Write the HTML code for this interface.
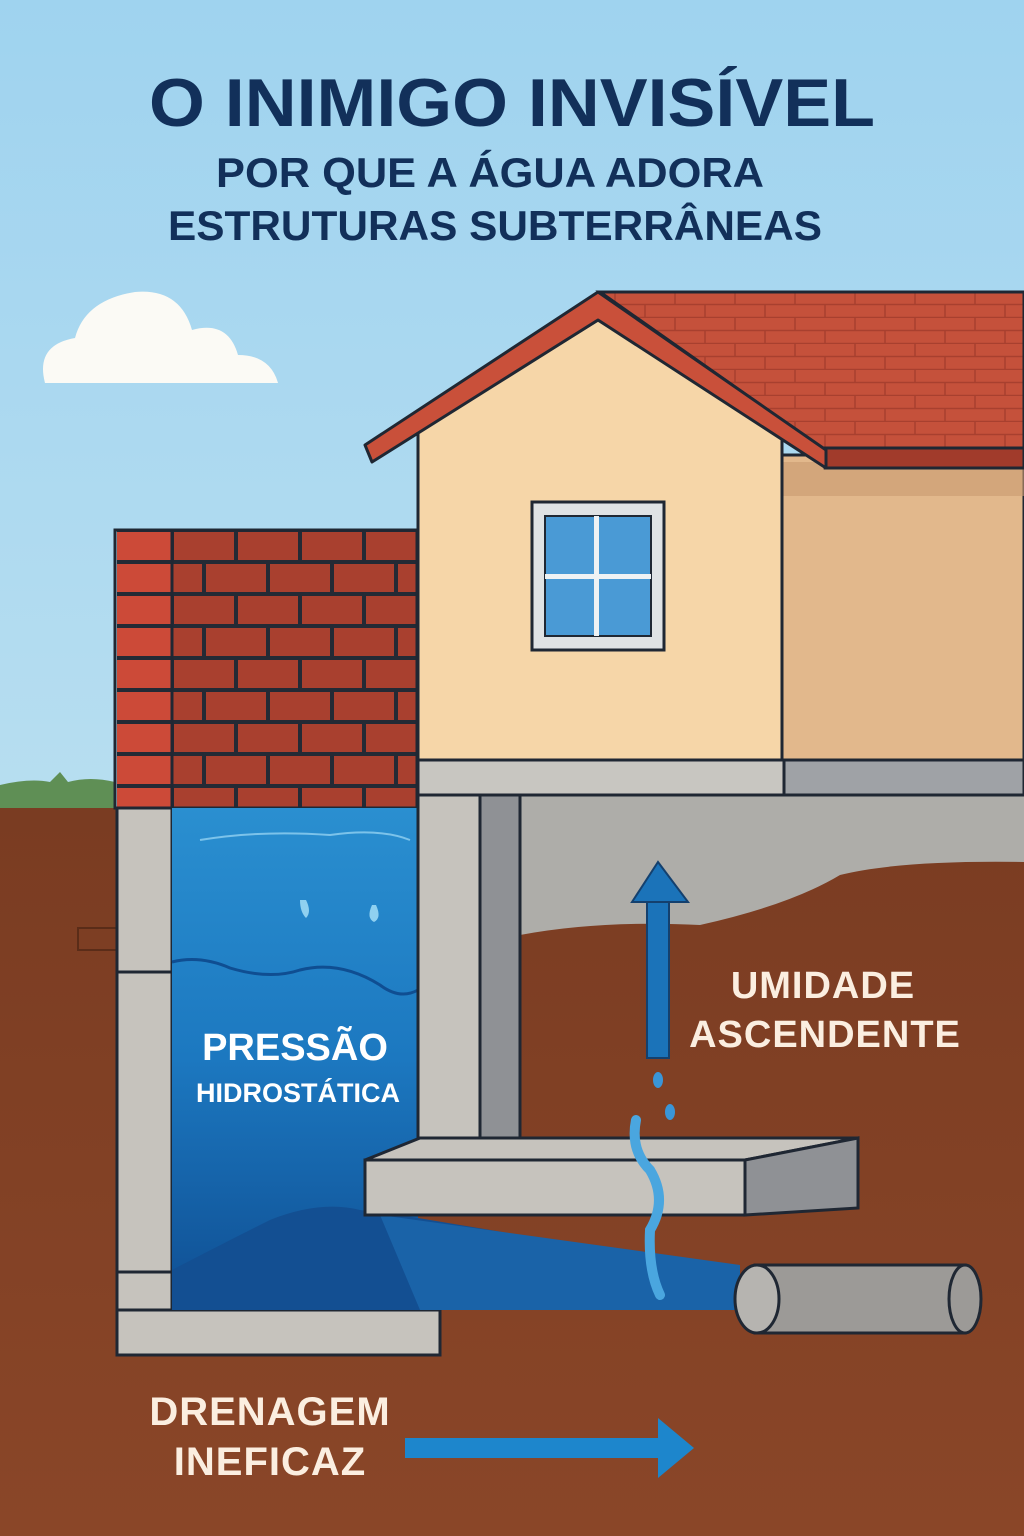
<!DOCTYPE html>
<html><head><meta charset="utf-8"><style>
html,body{margin:0;padding:0;width:1024px;height:1536px;overflow:hidden;}
svg{display:block}
text{font-family:"Liberation Sans","DejaVu Sans",sans-serif;font-weight:bold}
</style></head><body>
<svg width="1024" height="1536" viewBox="0 0 1024 1536" xmlns="http://www.w3.org/2000/svg">
<defs>
<linearGradient id="sky" x1="0" y1="0" x2="0" y2="1">
<stop offset="0" stop-color="#9fd3ef"/><stop offset="1" stop-color="#cde8f2"/></linearGradient>
<linearGradient id="water" x1="0" y1="0" x2="0" y2="1">
<stop offset="0" stop-color="#2a8fd0"/><stop offset="0.5" stop-color="#1c78c0"/><stop offset="1" stop-color="#0f4e92"/></linearGradient>
<linearGradient id="soil" gradientUnits="userSpaceOnUse" x1="0" y1="808" x2="0" y2="1536">
<stop offset="0" stop-color="#7a3c22"/><stop offset="1" stop-color="#8a4628"/></linearGradient>
<pattern id="shing" x="600" y="292" width="60" height="26" patternUnits="userSpaceOnUse">
<rect width="60" height="26" fill="#c5513b"/><path d="M0 12.5H60M0 25.5H60M15 0V13M45 13V26" stroke="#a8402f" stroke-width="1.5"/></pattern>
<pattern id="brick" x="172" y="530" width="64" height="64" patternUnits="userSpaceOnUse">
<rect width="64" height="64" fill="#232a35"/>
<rect x="2" y="2" width="60" height="28" fill="#a9402f"/>
<rect x="-30" y="34" width="60" height="28" fill="#a9402f"/><rect x="34" y="34" width="60" height="28" fill="#a9402f"/></pattern>
<pattern id="brick2" x="117" y="530" width="55" height="32" patternUnits="userSpaceOnUse">
<rect width="55" height="32" fill="#232a35"/><rect x="0" y="2" width="55" height="28" fill="#cc4a38"/></pattern>
</defs>
<rect width="1024" height="1536" fill="url(#sky)"/>
<!-- cloud -->
<path d="M45 383 Q35 345 75 338 Q85 300 135 292 Q180 288 192 330 Q228 320 238 355 Q270 355 278 383 Z" fill="#fbfaf5"/>
<!-- title -->
<text x="512" y="126" font-size="68" fill="#12305a" text-anchor="middle" textLength="726" lengthAdjust="spacingAndGlyphs">O INIMIGO INVISÍVEL</text>
<text x="490" y="187" font-size="42" fill="#12305a" text-anchor="middle" textLength="548" lengthAdjust="spacingAndGlyphs">POR QUE A ÁGUA ADORA</text>
<text x="495" y="240" font-size="42" fill="#12305a" text-anchor="middle" textLength="654" lengthAdjust="spacingAndGlyphs">ESTRUTURAS SUBTERRÂNEAS</text>
<!-- grass -->
<path d="M0 808 L0 785 Q30 778 50 782 L60 772 L68 782 Q90 776 115 782 L115 808Z" fill="#5f8f55"/>
<!-- soil -->
<rect x="0" y="808" width="1024" height="728" fill="url(#soil)"/>
<rect x="78" y="928" width="40" height="22" fill="none" stroke="#5a2c18" stroke-width="2"/>
<!-- basement interior -->
<rect x="520" y="795" width="504" height="345" fill="#aeada9"/>
<path d="M520 935 Q600 920 700 925 Q790 905 840 875 Q900 860 1024 862 L1024 1145 L520 1145Z" fill="url(#soil)"/>
<!-- house side wall -->
<rect x="782" y="455" width="242" height="305" fill="#e2b88c" stroke="#1f2733" stroke-width="3"/>
<rect x="782" y="462" width="242" height="34" fill="#c99a70" opacity="0.6"/>
<!-- roof -->
<polygon points="600,292 1024,292 1024,448 822,448" fill="url(#shing)" stroke="#1f2733" stroke-width="3"/>
<polygon points="822,448 1024,448 1024,468 825,468" fill="#a13b2b" stroke="#1f2733" stroke-width="3"/>
<!-- gable wall -->
<polygon points="418,432 598,320 782,432 782,760 418,760" fill="#f6d6a8" stroke="#1f2733" stroke-width="3"/>
<!-- front roof band -->
<polygon points="365,445 598,292 826,450 826,468 598,320 372,462" fill="#c9503a" stroke="#1f2733" stroke-width="3" stroke-linejoin="round"/>
<!-- window -->
<rect x="532" y="502" width="132" height="148" fill="#dfe2e4" stroke="#1f2733" stroke-width="3"/>
<rect x="545" y="516" width="106" height="120" fill="#4a9ad5" stroke="#1f2733" stroke-width="2"/>
<rect x="594" y="516" width="5" height="120" fill="#eef2f4"/><rect x="545" y="574" width="106" height="5" fill="#eef2f4"/>
<!-- slab under house -->
<rect x="418" y="760" width="366" height="35" fill="#c8c6c1" stroke="#1f2733" stroke-width="3"/>
<rect x="784" y="760" width="240" height="35" fill="#9fa2a6" stroke="#1f2733" stroke-width="3"/>
<!-- brick wall -->
<rect x="117" y="530" width="55" height="278" fill="url(#brick2)"/>
<rect x="172" y="530" width="245" height="278" fill="url(#brick)"/>
<rect x="115" y="530" width="302" height="278" fill="none" stroke="#1f2733" stroke-width="3"/>
<line x1="172" y1="530" x2="172" y2="808" stroke="#1f2733" stroke-width="3"/>
<!-- left foundation wall -->
<rect x="117" y="808" width="55" height="502" fill="#c6c3bd" stroke="#1f2733" stroke-width="3"/>
<line x1="117" y1="972" x2="172" y2="972" stroke="#1f2733" stroke-width="3"/>
<line x1="117" y1="1272" x2="172" y2="1272" stroke="#1f2733" stroke-width="3"/>
<rect x="117" y="1310" width="323" height="45" fill="#c6c3bd" stroke="#1f2733" stroke-width="3"/>
<!-- water -->
<rect x="172" y="808" width="246" height="502" fill="url(#water)"/>
<path d="M172 962 Q200 955 230 968 Q270 980 300 970 Q340 960 380 985 Q400 1000 418 990" fill="none" stroke="#0f4e92" stroke-width="3"/>
<path d="M172 1270 Q230 1240 270 1220 Q320 1200 360 1210 L400 1215 L730 1270 L735 1310 L172 1310Z" fill="#134f92"/>
<path d="M380 1215 L740 1265 L740 1310 L420 1310Z" fill="#1a63a8"/>
<path d="M200 840 Q260 830 330 835 Q380 828 410 840" fill="none" stroke="#7cc3ea" stroke-width="2"/>
<path d="M300 900 Q300 912 306 918 Q312 912 306 900Z" fill="#8fd0f0"/>
<path d="M372 905 Q366 918 374 922 Q382 918 376 905Z" fill="#8fd0f0"/>
<!-- inner wall -->
<rect x="418" y="795" width="62" height="345" fill="#c6c3bd" stroke="#1f2733" stroke-width="3"/>
<rect x="480" y="795" width="40" height="345" fill="#8f9195" stroke="#1f2733" stroke-width="3"/>
<!-- footing -->
<polygon points="365,1160 420,1138 858,1138 745,1160" fill="#c6c3bd" stroke="#1f2733" stroke-width="3"/>
<rect x="365" y="1160" width="380" height="55" fill="#c6c3bd" stroke="#1f2733" stroke-width="3"/>
<polygon points="745,1160 858,1138 858,1208 745,1215" fill="#8f9195" stroke="#1f2733" stroke-width="3"/>
<!-- seep -->
<path d="M636 1120 Q630 1150 650 1170 Q668 1200 650 1230 Q648 1270 660 1295" fill="none" stroke="#4aa6df" stroke-width="10" stroke-linecap="round"/>
<ellipse cx="658" cy="1080" rx="5" ry="8" fill="#3a96d8"/><ellipse cx="670" cy="1112" rx="5" ry="8" fill="#3a96d8"/>
<!-- pipe -->
<rect x="755" y="1265" width="210" height="68" fill="#9c9a97" stroke="#1f2733" stroke-width="3"/>
<ellipse cx="965" cy="1299" rx="16" ry="34" fill="#9c9a97" stroke="#1f2733" stroke-width="3"/>
<ellipse cx="757" cy="1299" rx="22" ry="34" fill="#b6b4b0" stroke="#1f2733" stroke-width="3"/>
<!-- up arrow -->
<rect x="647" y="900" width="22" height="158" fill="#1b73b9" stroke="#14406e" stroke-width="2"/>
<polygon points="632,902 658,862 688,902" fill="#1b73b9" stroke="#14406e" stroke-width="2"/>
<!-- labels -->
<text x="295" y="1060" font-size="38" fill="#fff" text-anchor="middle">PRESSÃO</text>
<text x="298" y="1102" font-size="27" fill="#fff" text-anchor="middle">HIDROSTÁTICA</text>
<text x="823" y="998" font-size="38" fill="#fbeee0" text-anchor="middle" letter-spacing="1">UMIDADE</text>
<text x="825" y="1047" font-size="38" fill="#fbeee0" text-anchor="middle" letter-spacing="1">ASCENDENTE</text>
<text x="270" y="1425" font-size="40" fill="#fbeee0" text-anchor="middle" letter-spacing="1">DRENAGEM</text>
<text x="270" y="1475" font-size="40" fill="#fbeee0" text-anchor="middle" letter-spacing="1">INEFICAZ</text>
<!-- right arrow -->
<rect x="405" y="1438" width="255" height="20" fill="#1d86cc"/>
<polygon points="658,1418 694,1448 658,1478" fill="#1d86cc"/>
</svg>
</body></html>
